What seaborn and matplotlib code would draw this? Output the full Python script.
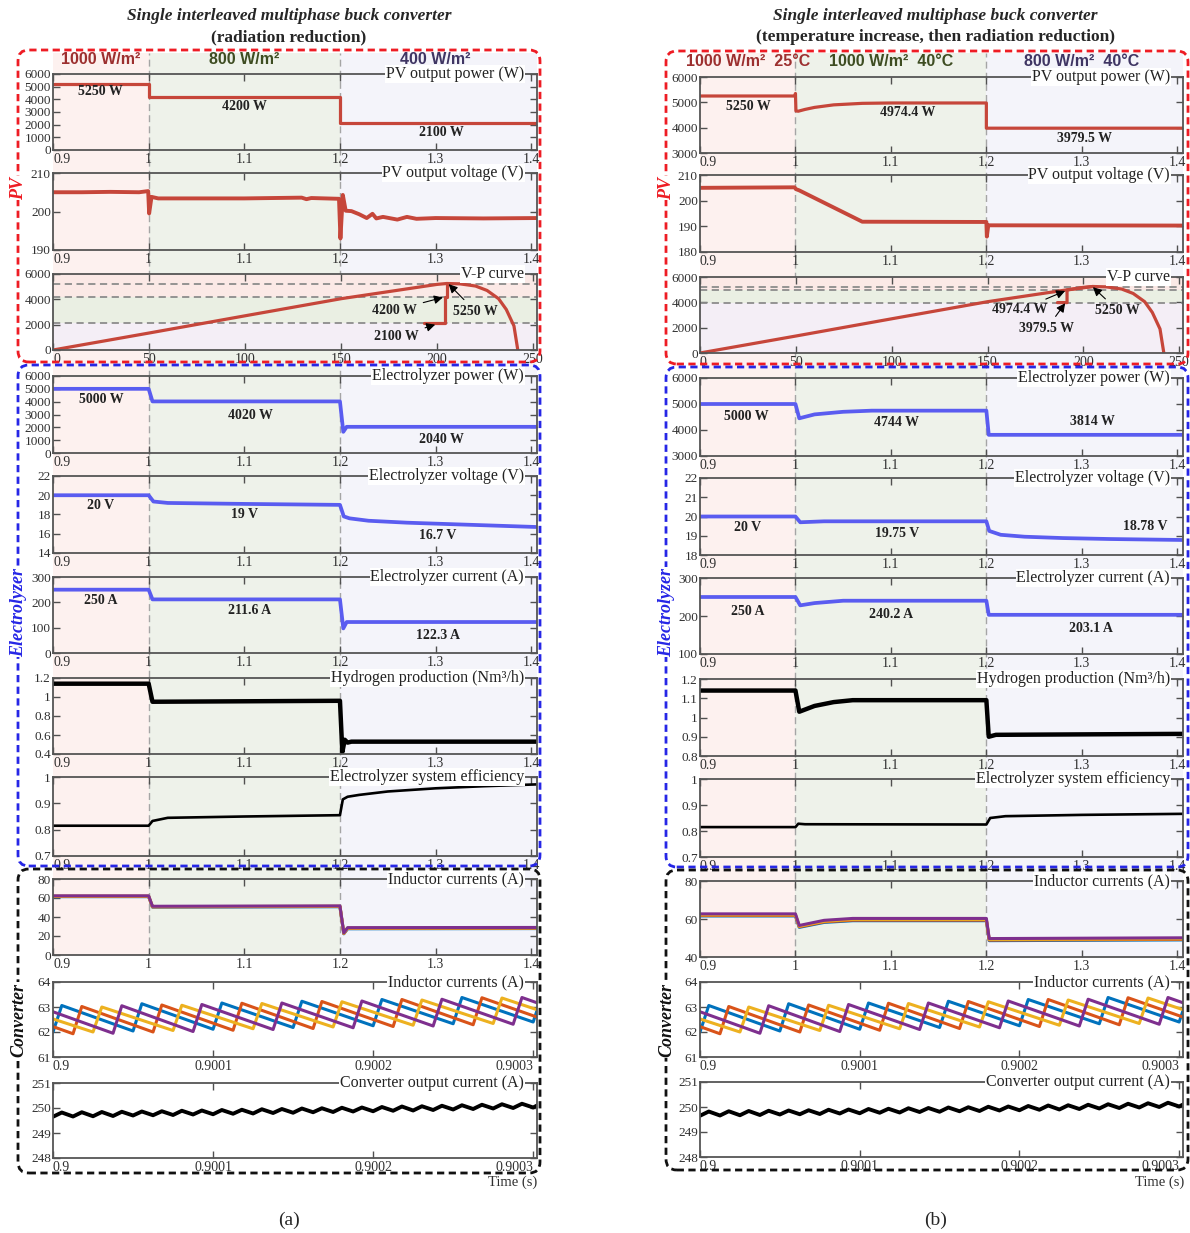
import numpy as np
import matplotlib
matplotlib.use('Agg')
import matplotlib.pyplot as plt
import seaborn as sns
from matplotlib.patches import FancyBboxPatch
from matplotlib.ticker import FuncFormatter

# ---------------- data ----------------
# operating regions (s)
t_edges = [0.9, 1.0, 1.2, 1.406]

# (a) radiation reduction
a_headers = ['1000 W/m²', '800 W/m²', '400 W/m²']

a_pv_p_t = [0.9, 1.0, 1.0, 1.2, 1.2, 1.406]
a_pv_p = [5250, 5250, 4200, 4200, 2100, 2100]

a_pv_v_t = [0.9, 0.93, 0.96, 0.99, 0.9995, 1.0005, 1.003, 1.01, 1.1, 1.16, 1.165, 1.17,
            1.199, 1.2005, 1.203, 1.206, 1.212, 1.22, 1.228, 1.234, 1.238, 1.245, 1.26,
            1.27, 1.28, 1.3, 1.35, 1.406]
a_pv_v = [205.0, 205.0, 205.1, 205.0, 205.3, 199.5, 203.8, 203.4, 203.4, 203.6, 203.2, 203.5,
          203.3, 193.0, 204.3, 200.2, 200.1, 199.3, 198.3, 199.4, 198.2, 198.6, 197.9,
          198.6, 198.1, 198.3, 198.2, 198.3]

a_el_p_t = [0.9, 1.0, 1.004, 1.2, 1.2035, 1.207, 1.406]
a_el_p = [5000, 5000, 4020, 4020, 1650, 2040, 2040]

a_el_v_t = [0.9, 1.0, 1.005, 1.02, 1.1, 1.2, 1.204, 1.21, 1.23, 1.27, 1.33, 1.406]
a_el_v = [20.0, 20.0, 19.35, 19.2, 19.1, 19.0, 17.8, 17.6, 17.35, 17.15, 16.95, 16.7]

a_el_i_t = [0.9, 1.0, 1.004, 1.2, 1.2035, 1.207, 1.406]
a_el_i = [250, 250, 211.6, 211.6, 97, 122.3, 122.3]

a_h2_t = [0.9, 1.0, 1.004, 1.2, 1.2025, 1.205, 1.208, 1.212, 1.406]
a_h2 = [1.14, 1.14, 0.95, 0.96, 0.42, 0.55, 0.52, 0.53, 0.53]

a_eff_t = [0.9, 1.0, 1.004, 1.02, 1.1, 1.2, 1.203, 1.208, 1.22, 1.25, 1.3, 1.35, 1.406]
a_eff = [0.815, 0.815, 0.833, 0.845, 0.85, 0.855, 0.915, 0.925, 0.932, 0.945, 0.957, 0.965, 0.972]

a_il_t = [0.9, 1.0, 1.004, 1.2, 1.204, 1.208, 1.406]
a_il = [[61.4, 61.4, 50.4, 50.8, 22.3, 27.6, 27.8],
        [61.7, 61.7, 50.7, 51.1, 22.6, 28.0, 28.2],
        [61.9, 61.9, 50.9, 51.3, 22.8, 28.3, 28.5],
        [62.3, 62.3, 51.3, 51.7, 23.3, 28.8, 29.0]]

a_vp_marks = [5250, 4200, 2100]
a_vp_traj_v = [205, 205, 204, 204, 193]
a_vp_traj_p = [5250, 4200, 4200, 2100, 2100]

# (b) temperature increase, then radiation reduction
b_headers = ['1000 W/m²  25°C', '1000 W/m²  40°C', '800 W/m²  40°C']

b_pv_p_t = [0.9, 0.9995, 1.0, 1.0005, 1.003, 1.01, 1.02, 1.04, 1.07, 1.1, 1.2, 1.2, 1.406]
b_pv_p = [5250, 5250, 5350, 4660, 4650, 4720, 4800, 4900, 4960, 4974.4, 4974.4, 3979.5, 3979.5]

b_pv_v_t = [0.9, 0.999, 1.0005, 1.004, 1.07, 1.2, 1.2005, 1.202, 1.406]
b_pv_v = [205.0, 205.2, 204.5, 204.0, 191.8, 191.7, 186.0, 190.4, 190.3]

b_el_p_t = [0.9, 1.0, 1.004, 1.02, 1.05, 1.08, 1.2, 1.2025, 1.406]
b_el_p = [5000, 5000, 4450, 4600, 4700, 4744, 4744, 3814, 3814]

b_el_v_t = [0.9, 1.0, 1.005, 1.03, 1.2, 1.203, 1.215, 1.24, 1.28, 1.33, 1.406]
b_el_v = [20.0, 20.0, 19.7, 19.75, 19.75, 19.25, 19.05, 18.95, 18.88, 18.83, 18.78]

b_el_i_t = [0.9, 1.0, 1.005, 1.02, 1.05, 1.2, 1.2025, 1.406]
b_el_i = [250, 250, 228, 234, 240.2, 240.2, 203.1, 203.1]

b_h2_t = [0.9, 1.0, 1.004, 1.02, 1.04, 1.06, 1.2, 1.2025, 1.21, 1.406]
b_h2 = [1.14, 1.14, 1.03, 1.06, 1.08, 1.09, 1.09, 0.9, 0.91, 0.915]

b_eff_t = [0.9, 1.0, 1.003, 1.01, 1.2, 1.204, 1.22, 1.3, 1.406]
b_eff = [0.815, 0.815, 0.828, 0.826, 0.825, 0.85, 0.857, 0.862, 0.866]

b_il_t = [0.9, 1.0, 1.004, 1.03, 1.06, 1.2, 1.203, 1.406]
b_il = [[61.6, 61.6, 55.6, 58.2, 59.1, 59.1, 48.6, 49.0],
        [61.9, 61.9, 55.9, 58.5, 59.4, 59.4, 48.9, 49.3],
        [62.2, 62.2, 56.2, 58.8, 59.8, 59.8, 49.2, 49.6],
        [62.7, 62.7, 56.6, 59.3, 60.3, 60.3, 49.7, 50.1]]

b_vp_marks = [5250, 4974.4, 3979.5]
b_vp_traj_v = [205, 191.5, 191.5, 186.5]
b_vp_traj_p = [5250, 4974.4, 3979.5, 3979.5]

# PV V-P characteristic (V, W)
vp_v = [0, 50, 100, 150, 200, 205, 212, 220, 226, 232, 236, 240, 242]
vp_p = [0, 1340, 2700, 4050, 5180, 5250, 5220, 5050, 4700, 4050, 3200, 1900, 0]

# phase inductor currents over six switching periods (A), phases 1..4
t_sw = 50e-6
t_on = 5.5e-6
phase_delay = [0.0, 12.5e-6, 25e-6, 37.5e-6]
il_valleys = [[61.93, 62.00, 62.04, 62.11, 62.18, 62.25, 62.33, 62.40],
              [61.88, 61.93, 62.00, 62.07, 62.14, 62.22, 62.29, 62.37],
              [61.92, 62.00, 62.06, 62.13, 62.20, 62.27, 62.34, 62.41],
              [61.90, 61.95, 62.02, 62.10, 62.17, 62.24, 62.31, 62.38]]
il_peaks = [[62.98, 63.06, 63.13, 63.16, 63.23, 63.30, 63.38, 63.45],
            [62.95, 63.02, 63.08, 63.15, 63.22, 63.30, 63.37, 63.44],
            [62.93, 63.00, 63.07, 63.14, 63.21, 63.28, 63.36, 63.43],
            [62.97, 63.05, 63.10, 63.16, 63.24, 63.31, 63.38, 63.45]]

# converter output current ripple (A)
t_ripple = 12.5e-6
out_valleys = [249.65, 249.66, 249.67, 249.68, 249.70, 249.71, 249.72, 249.74, 249.75,
               249.77, 249.78, 249.80, 249.81, 249.83, 249.84, 249.86, 249.87, 249.89,
               249.90, 249.92, 249.94, 249.96, 249.98, 250.00, 250.02]
out_peaks = [249.82, 249.83, 249.84, 249.85, 249.86, 249.87, 249.89, 249.90, 249.92,
             249.93, 249.95, 249.96, 249.98, 249.99, 250.01, 250.02, 250.04, 250.06,
             250.07, 250.09, 250.11, 250.13, 250.15, 250.17, 250.20]

# ---------------- style ----------------
sns.set_style('ticks')
SERIF = ['Liberation Serif', 'DejaVu Serif']
SANS = ['Liberation Sans', 'DejaVu Sans']
plt.rcParams['font.family'] = SERIF

W, H = 1190, 1233
fig = plt.figure(figsize=(W / 100, H / 100), dpi=100)

PV_RED = '#c6463a'
EL_BLUE = '#5a5cf0'
PHASE_COLORS = ['#0072bd', '#d95319', '#edb120', '#7e2f8e']
SHADE = ['#fdf1ef', '#eef2ea', '#f4f4fa']
HEAD_COLORS = ['#9c2f2f', '#3e4d22', '#3f3563']
T_LIM = (0.9, 1.406)
Z_LIM = (0.9, 0.9003024)
T_TICKS = [0.9, 1.0, 1.1, 1.2, 1.3, 1.4]
Z_TICKS = [0.9, 0.9001, 0.9002, 0.9003]
FMT = FuncFormatter(lambda v, p: f'{v:g}')


def px_axes(x0, x1, y0, y1):
    return fig.add_axes([x0 / W, 1 - y1 / H, (x1 - x0) / W, (y1 - y0) / H])


def setup(ax, xlim, xticks, ylim, yticks, title=None, last_right=False):
    ax.set_facecolor('none')
    ax.set_xlim(xlim)
    ax.set_ylim(ylim)
    ax.set_xticks(xticks)
    ax.set_yticks(yticks)
    ax.xaxis.set_major_formatter(FMT)
    ax.yaxis.set_major_formatter(FMT)
    ax.tick_params(direction='in', length=5, width=1.0, color='#505050', top=True,
                   right=True, labelsize=10, labelcolor='#303030', pad=2)
    ax.tick_params(axis='y', labelsize=9.5, pad=1.5)
    for s in ax.spines.values():
        s.set_visible(True)
        s.set_color('#555555')
        s.set_linewidth(1.3)
    ax.set_xlabel('')
    ax.set_ylabel('')
    xt = ax.xaxis.get_major_ticks()
    xt[0].label1.set_horizontalalignment('left')
    if last_right:
        xt[-1].label1.set_horizontalalignment('right')
    if title:
        ax.text(0.973, 1.0, title, transform=ax.transAxes, ha='right', va='center',
                fontsize=11.5, color='#222222', zorder=6, clip_on=False,
                bbox=dict(boxstyle='square,pad=0.05', fc='white', ec='none'))


def line(ax, t, y, color, lw):
    sns.lineplot(x=t, y=y, ax=ax, color=color, linewidth=lw, estimator=None,
                 sort=False, legend=False)


def tag(ax, t, y, s):
    ax.text(t, y, s, ha='center', va='center', fontsize=10, fontweight='bold',
            color='#222222', zorder=5)


def sawtooth(delay, valleys, peaks, period, rise):
    t, i = [], []
    for k, (lo, hi) in enumerate(zip(valleys, peaks)):
        t0 = 0.9 + delay + (k - 1) * period
        t += [t0, t0 + rise]
        i += [lo, hi]
    return t, i


def draw_column(x0, x1, rows, d, head_y, title2, time_x, tag_letter):
    # shaded operating regions behind the time-domain plots
    bg = px_axes(x0, x1, 53, rows[8][1])
    bg.set_xlim(T_LIM)
    bg.set_ylim(0, 1)
    bg.axis('off')
    for lo, hi, c in zip(t_edges[:-1], t_edges[1:], SHADE):
        bg.axvspan(lo, hi, color=c, lw=0)
    for tx in t_edges[1:3]:
        bg.axvline(tx, color='#a5a5a5', lw=1.0, ls=(0, (5, 3)))

    def tx_px(t):
        return x0 + (t - T_LIM[0]) / (T_LIM[1] - T_LIM[0]) * (x1 - x0)

    for tc, s, c in zip([0.95, 1.1, 1.3], d['headers'], HEAD_COLORS):
        fig.text(tx_px(tc) / W, 1 - head_y / H, s, ha='center', va='center',
                 fontsize=11.5, fontweight='bold', color=c, family=SANS)

    xc = (x0 + x1) / 2 - 6
    fig.text(xc / W, 1 - 16 / H, 'Single interleaved multiphase buck converter',
             ha='center', va='center', fontsize=12.5, fontweight='bold', fontstyle='italic')
    fig.text(xc / W, 1 - 37 / H, title2, ha='center', va='center', fontsize=12.5,
             fontweight='bold')

    axs = [px_axes(x0, x1, r[0], r[1]) for r in rows]

    # PV output power
    ax = axs[0]
    line(ax, d['pv_p_t'], d['pv_p'], PV_RED, 2.3)
    setup(ax, T_LIM, T_TICKS, d['pv_p_lim'], d['pv_p_ticks'], 'PV output power (W)')
    for (t, y), s in zip(d['pv_p_tags'], d['pv_p_txt']):
        tag(ax, t, y, s)

    # PV output voltage
    ax = axs[1]
    line(ax, d['pv_v_t'], d['pv_v'], PV_RED, 2.8)
    setup(ax, T_LIM, T_TICKS, d['pv_v_lim'], d['pv_v_ticks'], 'PV output voltage (V)')

    # V-P curve
    ax = axs[2]
    ax.set_zorder(2)
    marks = d['vp_marks']
    ax.axhspan(marks[1], 6000, color='#fbe9e6', lw=0, zorder=0)
    ax.axhspan(marks[2], marks[1], color='#eaefe3', lw=0, zorder=0)
    ax.axhspan(0, marks[2], color='#f4eef6', lw=0, zorder=0)
    for m in marks:
        ax.axhline(m, color='#8c8c8c', lw=1.3, ls=(0, (4, 2.5)), zorder=1)
    line(ax, vp_v, vp_p, PV_RED, 2.3)
    line(ax, d['traj_v'], d['traj_p'], PV_RED, 2.3)
    setup(ax, (0, 252), [0, 50, 100, 150, 200, 250], (0, 6000), [0, 2000, 4000, 6000],
          'V-P curve')
    ax.set_facecolor('white')
    for s, xy, xyt in d['vp_notes']:
        ax.annotate(s, xy=xy, xytext=xyt, textcoords='data', ha='center', va='center',
                    fontsize=10, fontweight='bold', color='#222222', zorder=6,
                    arrowprops=dict(arrowstyle='-|>', color='black', lw=0.8,
                                    mutation_scale=13, shrinkA=2, shrinkB=0))

    # electrolyzer power, voltage, current
    ax = axs[3]
    line(ax, d['el_p_t'], d['el_p'], EL_BLUE, 2.7)
    setup(ax, T_LIM, T_TICKS, d['el_p_lim'], d['el_p_ticks'], 'Electrolyzer power (W)')
    for (t, y), s in zip(d['el_p_tags'], d['el_p_txt']):
        tag(ax, t, y, s)

    ax = axs[4]
    line(ax, d['el_v_t'], d['el_v'], EL_BLUE, 2.7)
    setup(ax, T_LIM, T_TICKS, d['el_v_lim'], d['el_v_ticks'], 'Electrolyzer voltage (V)')
    for (t, y), s in zip(d['el_v_tags'], d['el_v_txt']):
        tag(ax, t, y, s)

    ax = axs[5]
    line(ax, d['el_i_t'], d['el_i'], EL_BLUE, 2.7)
    setup(ax, T_LIM, T_TICKS, d['el_i_lim'], d['el_i_ticks'], 'Electrolyzer current (A)')
    for (t, y), s in zip(d['el_i_tags'], d['el_i_txt']):
        tag(ax, t, y, s)

    # hydrogen production
    ax = axs[6]
    line(ax, d['h2_t'], d['h2'], 'black', 3.2)
    setup(ax, T_LIM, T_TICKS, d['h2_lim'], d['h2_ticks'], 'Hydrogen production (Nm³/h)')

    # efficiency
    ax = axs[7]
    line(ax, d['eff_t'], d['eff'], 'black', 1.9)
    setup(ax, T_LIM, T_TICKS, (0.7, 1.0), [0.7, 0.8, 0.9, 1.0],
          'Electrolyzer system efficiency')

    # inductor currents, full window
    ax = axs[8]
    for vals, c in zip(d['il'], PHASE_COLORS):
        line(ax, d['il_t'], vals, c, 2.2)
    setup(ax, T_LIM, T_TICKS, d['il_lim'], d['il_ticks'], 'Inductor currents (A)')

    # inductor currents, switching detail
    ax = axs[9]
    for dl, lo, hi, c in zip(phase_delay, il_valleys, il_peaks, PHASE_COLORS):
        t, i = sawtooth(dl, lo, hi, t_sw, t_on)
        line(ax, t, i, c, 2.2)
    setup(ax, Z_LIM, Z_TICKS, (61, 64), [61, 62, 63, 64], 'Inductor currents (A)',
          last_right=True)

    # converter output current
    ax = axs[10]
    t, i = sawtooth(t_ripple, out_valleys, out_peaks, t_ripple, t_on)
    line(ax, t, i, 'black', 2.8)
    setup(ax, Z_LIM, Z_TICKS, (248, 251), [248, 249, 250, 251],
          'Converter output current (A)', last_right=True)

    fig.text(time_x / W, 1 - 1182 / H, 'Time (s)', ha='right', va='center', fontsize=10.5,
             color='#303030')
    fig.text(xc / W, 1 - 1220 / H, tag_letter, ha='center', va='center', fontsize=14)


def dashed_box(x0, x1, y0, y1, color):
    fig.add_artist(FancyBboxPatch((x0 / W, 1 - y1 / H), (x1 - x0) / W, (y1 - y0) / H,
                                  boxstyle='round,pad=0,rounding_size=0.009',
                                  transform=fig.transFigure, fill=False, ec=color,
                                  lw=2.0, ls=(0, (2.6, 1.6)), zorder=10))


def side_label(x, y, s, color):
    fig.text(x / W, 1 - y / H, s, rotation=90, ha='center', va='center', fontsize=13,
             fontweight='bold', fontstyle='italic', color=color, zorder=11,
             bbox=dict(boxstyle='square,pad=0.05', fc='white', ec='none'))


col_a = dict(
    headers=a_headers,
    pv_p_t=a_pv_p_t, pv_p=a_pv_p, pv_p_lim=(0, 6000),
    pv_p_ticks=[0, 1000, 2000, 3000, 4000, 5000, 6000],
    pv_p_tags=[(0.95, 4600), (1.1, 3450), (1.306, 1350)],
    pv_p_txt=['5250 W', '4200 W', '2100 W'],
    pv_v_t=a_pv_v_t, pv_v=a_pv_v, pv_v_lim=(190, 210), pv_v_ticks=[190, 200, 210],
    vp_marks=a_vp_marks, traj_v=a_vp_traj_v, traj_p=a_vp_traj_p,
    vp_notes=[('4200 W', (203, 4150), (178, 3150)),
              ('2100 W', (199, 2000), (179, 1050)),
              ('5250 W', (206, 5200), (220, 3050))],
    el_p_t=a_el_p_t, el_p=a_el_p, el_p_lim=(0, 6000),
    el_p_ticks=[0, 1000, 2000, 3000, 4000, 5000, 6000],
    el_p_tags=[(0.95, 4130), (1.106, 2960), (1.306, 1090)],
    el_p_txt=['5000 W', '4020 W', '2040 W'],
    el_v_t=a_el_v_t, el_v=a_el_v, el_v_lim=(14, 22), el_v_ticks=[14, 16, 18, 20, 22],
    el_v_tags=[(0.95, 18.9), (1.1, 18.05), (1.302, 15.87)],
    el_v_txt=['20 V', '19 V', '16.7 V'],
    el_i_t=a_el_i_t, el_i=a_el_i, el_i_lim=(0, 300), el_i_ticks=[0, 100, 200, 300],
    el_i_tags=[(0.95, 209), (1.105, 166), (1.302, 71)],
    el_i_txt=['250 A', '211.6 A', '122.3 A'],
    h2_t=a_h2_t, h2=a_h2, h2_lim=(0.4, 1.2), h2_ticks=[0.4, 0.6, 0.8, 1.0, 1.2],
    eff_t=a_eff_t, eff=a_eff,
    il_t=a_il_t, il=a_il, il_lim=(0, 80), il_ticks=[0, 20, 40, 60, 80],
)

col_b = dict(
    headers=b_headers,
    pv_p_t=b_pv_p_t, pv_p=b_pv_p, pv_p_lim=(3000, 6000),
    pv_p_ticks=[3000, 4000, 5000, 6000],
    pv_p_tags=[(0.951, 4816), (1.118, 4579), (1.303, 3553)],
    pv_p_txt=['5250 W', '4974.4 W', '3979.5 W'],
    pv_v_t=b_pv_v_t, pv_v=b_pv_v, pv_v_lim=(180, 210), pv_v_ticks=[180, 190, 200, 210],
    vp_marks=b_vp_marks, traj_v=b_vp_traj_v, traj_p=b_vp_traj_p,
    vp_notes=[('4974.4 W', (190.5, 4900), (167, 3400)),
              ('3979.5 W', (190.5, 3930), (181, 1940)),
              ('5250 W', (205, 5200), (218, 3350))],
    el_p_t=b_el_p_t, el_p=b_el_p, el_p_lim=(3000, 6000),
    el_p_ticks=[3000, 4000, 5000, 6000],
    el_p_tags=[(0.949, 4500), (1.106, 4270), (1.311, 4310)],
    el_p_txt=['5000 W', '4744 W', '3814 W'],
    el_v_t=b_el_v_t, el_v=b_el_v, el_v_lim=(18, 22), el_v_ticks=[18, 19, 20, 21, 22],
    el_v_tags=[(0.95, 19.45), (1.106, 19.14), (1.366, 19.5)],
    el_v_txt=['20 V', '19.75 V', '18.78 V'],
    el_i_t=b_el_i_t, el_i=b_el_i, el_i_lim=(100, 300), el_i_ticks=[100, 200, 300],
    el_i_tags=[(0.95, 213), (1.1, 205), (1.31, 168)],
    el_i_txt=['250 A', '240.2 A', '203.1 A'],
    h2_t=b_h2_t, h2=b_h2, h2_lim=(0.8, 1.2), h2_ticks=[0.8, 0.9, 1.0, 1.1, 1.2],
    eff_t=b_eff_t, eff=b_eff,
    il_t=b_il_t, il=b_il, il_lim=(40, 80), il_ticks=[40, 60, 80],
)

rows_a = [(74, 150), (173, 250), (274, 350), (376, 453), (476, 553), (577, 653),
          (678, 754), (777, 856), (879, 955), (982, 1057), (1083, 1158)]
rows_b = [(77, 153), (175, 252), (277, 353), (378, 456), (478, 555), (578, 654),
          (679, 756), (779, 857), (881, 957), (982, 1057), (1082, 1157)]

draw_column(53, 537, rows_a, col_a, 59, '(radiation reduction)', 537, '(a)')
draw_column(700, 1183, rows_b, col_b, 62,
            '(temperature increase, then radiation reduction)', 1184, '(b)')

# subsystem frames
dashed_box(18, 540, 50, 362, '#ee1c24')
dashed_box(18, 540, 365, 866, '#2626e6')
dashed_box(18, 540, 869, 1173, '#111111')
dashed_box(666, 1188, 51, 364, '#ee1c24')
dashed_box(666, 1188, 367, 867, '#2626e6')
dashed_box(666, 1188, 870, 1170, '#111111')

side_label(19, 188, 'PV', '#ee1c24')
side_label(19, 612, 'Electrolyzer', '#2626e6')
side_label(19, 1020, 'Converter', '#111111')
side_label(667, 188, 'PV', '#ee1c24')
side_label(667, 612, 'Electrolyzer', '#2626e6')
side_label(667, 1020, 'Converter', '#111111')

fig.savefig('out.png', dpi=100)
